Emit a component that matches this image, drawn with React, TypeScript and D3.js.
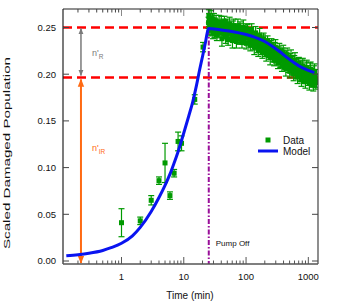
import React from "react";
import * as d3 from "d3";

// ---- Data ----
const earlyTimes = [1, 2, 3, 4, 5, 6, 7, 8.1, 9.2, 15, 20.4];
const earlyValues = [0.041, 0.043, 0.065, 0.086, 0.105, 0.07, 0.094, 0.128, 0.126, 0.173, 0.229];
const earlyErrors = [0.015, 0.004, 0.005, 0.004, 0.021, 0.004, 0.004, 0.01, 0.008, 0.005, 0.005];

const lateTimes = [
  25, 25.5, 26, 27, 28, 29, 30, 31, 32, 33, 35, 36, 38, 40, 42, 44, 46, 48, 50, 53, 56, 59, 62, 65, 68,
  72, 76, 80, 84, 88, 93, 98, 103, 108, 114, 120, 126, 132, 139, 146, 153, 161, 169, 178, 187, 196,
  206, 216, 227, 238, 250, 262, 275, 289, 303, 318, 334, 350, 368, 386, 405, 425, 446, 468, 491, 515,
  540, 567, 595, 625, 656, 688, 722, 758, 796, 835, 877, 920, 966, 1014, 1064, 1117, 1172, 1230, 1290, 1350,
];
const lateValues = [
  0.255, 0.258, 0.252, 0.256, 0.249, 0.259, 0.251, 0.246, 0.254, 0.257, 0.248, 0.252, 0.245, 0.255,
  0.249, 0.243, 0.251, 0.247, 0.253, 0.244, 0.249, 0.241, 0.25, 0.246, 0.239, 0.247, 0.243, 0.25,
  0.241, 0.246, 0.238, 0.244, 0.248, 0.24, 0.236, 0.244, 0.239, 0.233, 0.241, 0.236, 0.23, 0.238,
  0.234, 0.228, 0.236, 0.231, 0.226, 0.233, 0.229, 0.223, 0.23, 0.226, 0.22, 0.228, 0.223, 0.217,
  0.225, 0.22, 0.215, 0.222, 0.218, 0.212, 0.219, 0.214, 0.209, 0.217, 0.212, 0.207, 0.214, 0.209,
  0.204, 0.211, 0.206, 0.201, 0.208, 0.203, 0.199, 0.206, 0.201, 0.197, 0.204, 0.199, 0.195, 0.202,
  0.197, 0.193,
];
const lateErrors = [
  0.006, 0.007, 0.005, 0.006, 0.007, 0.006, 0.005, 0.007, 0.006, 0.006, 0.007, 0.005, 0.006, 0.007,
  0.006, 0.005, 0.007, 0.006, 0.006, 0.007, 0.005, 0.006, 0.007, 0.006, 0.005, 0.007, 0.006, 0.006,
  0.007, 0.005, 0.006, 0.007, 0.006, 0.005, 0.007, 0.006, 0.006, 0.007, 0.005, 0.006, 0.007, 0.006,
  0.005, 0.007, 0.006, 0.006, 0.007, 0.005, 0.006, 0.007, 0.006, 0.005, 0.007, 0.006, 0.006, 0.007,
  0.005, 0.006, 0.007, 0.006, 0.005, 0.007, 0.006, 0.006, 0.007, 0.005, 0.007, 0.008, 0.006, 0.007,
  0.008, 0.006, 0.007, 0.008, 0.007, 0.006, 0.008, 0.007, 0.008, 0.006, 0.008, 0.007, 0.008, 0.007,
  0.008, 0.007,
];

const lateTimes2 = [
  25.3, 26.5, 27.5, 28.5, 29.5, 30.5, 32.5, 34, 37, 39, 41, 43, 45, 47, 49, 51.5, 54.5, 57.5, 60.5, 63.5,
  66.5, 70, 74, 78, 82, 86, 90.5, 95.5, 100.5, 105.5, 111, 117, 123, 129, 135.5, 142.5, 149.5, 157, 165,
  173.5, 182.5, 191.5, 201, 211, 221.5, 232.5, 244, 256, 268.5, 282, 296, 310.5, 326, 342, 359, 377,
  395.5, 415, 435.5, 457, 479.5, 503, 527.5, 553.5, 581, 610, 640.5, 672, 705, 740, 777, 815.5, 856,
  898.5, 943, 990, 1039, 1090.5, 1144.5, 1201, 1260, 1320,
];
const lateValues2 = [
  0.262, 0.247, 0.26, 0.253, 0.244, 0.258, 0.25, 0.242, 0.256, 0.248, 0.238, 0.252, 0.256, 0.24,
  0.249, 0.237, 0.254, 0.245, 0.236, 0.252, 0.243, 0.235, 0.251, 0.238, 0.247, 0.234, 0.25, 0.24,
  0.233, 0.246, 0.242, 0.231, 0.247, 0.236, 0.229, 0.244, 0.233, 0.226, 0.241, 0.231, 0.224, 0.238,
  0.227, 0.221, 0.235, 0.225, 0.218, 0.232, 0.221, 0.215, 0.229, 0.219, 0.212, 0.226, 0.215, 0.209,
  0.224, 0.212, 0.206, 0.221, 0.208, 0.203, 0.218, 0.206, 0.2, 0.215, 0.203, 0.197, 0.212, 0.2,
  0.194, 0.209, 0.198, 0.192, 0.207, 0.196, 0.19, 0.205, 0.194, 0.189, 0.203, 0.192,
];
const lateErrors2 = [
  0.007, 0.006, 0.008, 0.007, 0.006, 0.007, 0.008, 0.006, 0.007, 0.006, 0.008, 0.007, 0.006, 0.007,
  0.008, 0.006, 0.007, 0.006, 0.008, 0.007, 0.006, 0.007, 0.008, 0.006, 0.007, 0.006, 0.008, 0.007,
  0.006, 0.007, 0.008, 0.006, 0.007, 0.006, 0.008, 0.007, 0.006, 0.007, 0.008, 0.006, 0.007, 0.006,
  0.008, 0.007, 0.006, 0.007, 0.008, 0.006, 0.007, 0.006, 0.008, 0.007, 0.006, 0.007, 0.008, 0.006,
  0.007, 0.006, 0.008, 0.007, 0.006, 0.007, 0.008, 0.006, 0.007, 0.008, 0.008, 0.007, 0.006, 0.008,
  0.007, 0.008, 0.008, 0.007, 0.008, 0.008, 0.007, 0.008, 0.008, 0.007, 0.008, 0.008,
];

const modelTimes = [
  0.13, 0.2, 0.3, 0.5, 0.7, 1, 1.5, 2, 3, 4, 5, 6, 7, 8, 10, 12, 14, 16, 18, 20, 22, 24.6, 25.2, 38,
  62, 100, 140, 200, 270, 350, 440, 600, 720, 1000, 1250,
];
const modelValues = [
  0.0057, 0.0068, 0.0083, 0.0113, 0.0145, 0.019, 0.027, 0.036, 0.053, 0.068, 0.081, 0.093, 0.105,
  0.116, 0.137, 0.155, 0.171, 0.188, 0.205, 0.219, 0.232, 0.248, 0.249, 0.2475, 0.2455, 0.2425,
  0.2395, 0.235, 0.2295, 0.224, 0.2185, 0.212, 0.2085, 0.204, 0.2016,
];

const yTicks = [0, 0.05, 0.1, 0.15, 0.2, 0.25];
const yTickLabels = ["0.00", "0.05", "0.10", "0.15", "0.20", "0.25"];
const xMajorTicks = [1, 10, 100, 1000];
const xTickLabels = ["1", "10", "100", "1000"];
const refLevels = [0.25, 0.1965];
const pumpOffTime = 25.2;
const arrowTime = 0.2;
const legendLabels = ["Data", "Model"];

export default function App() {
  const W = 341,
    H = 303;
  const L = 63,
    R = 318,
    T = 9,
    B = 264;
  const x = d3.scaleLog().domain([0.115, 1430]).range([L, R]);
  const y = d3.scaleLinear().domain([-0.00321, 0.2698]).range([B, T]);

  const minorTicks: number[] = [];
  for (let e = -1; e <= 3; e++) {
    for (let m = 1; m <= 9; m++) {
      const v = m * Math.pow(10, e);
      if (v >= 0.115 && v <= 1430) minorTicks.push(v);
    }
  }

  const line = d3
    .line<number>()
    .x((_, i) => x(modelTimes[i]))
    .y((d) => y(d))
    .curve(d3.curveMonotoneX);

  const font = "'Liberation Sans', Arial, sans-serif";
  const green = "#009a00";
  const orange = "#ff6a13";
  const gray = "#7a7a7a";

  const ax = x(arrowTime) + 3;

  const points = [
    ...earlyTimes.map((t, i) => ({ t, v: earlyValues[i], e: earlyErrors[i] })),
    ...lateTimes.map((t, i) => ({ t, v: lateValues[i], e: lateErrors[i] })),
    ...lateTimes2.map((t, i) => ({ t, v: lateValues2[i], e: lateErrors2[i] })),
  ];

  return (
    <svg width={W} height={H} style={{ position: "absolute", left: 0, top: 0, background: "#fff" }} fontFamily={font}>
      <defs>
        <marker id="ao" viewBox="0 0 10 10" refX="9" refY="5" markerWidth="4" markerHeight="4" orient="auto-start-reverse">
          <path d="M0,1 L10,5 L0,9 z" fill={orange} />
        </marker>
        <marker id="ag" viewBox="0 0 10 10" refX="9" refY="5" markerWidth="4" markerHeight="4" orient="auto-start-reverse">
          <path d="M0,1 L10,5 L0,9 z" fill={gray} />
        </marker>
        <clipPath id="plot">
          <rect x={L} y={T} width={R - L} height={B - T} />
        </clipPath>
      </defs>

      {/* reference dashed lines */}
      {refLevels.map((lv, i) => (
        <line key={i} x1={L} x2={R} y1={y(lv)} y2={y(lv)} stroke="#ff0000" strokeWidth={2.5} strokeDasharray="9,5" />
      ))}

      {/* pump off line */}
      <line x1={x(pumpOffTime)} x2={x(pumpOffTime)} y1={T} y2={B} stroke="#990f99" strokeWidth={2} strokeDasharray="5,2,1.5,2" />
      <text x={x(pumpOffTime) + 7} y={246} fontSize={8} fill="#111">Pump Off</text>

      {/* arrows */}
      <line x1={ax} x2={ax} y1={y(0.25) + 1} y2={y(0.1965) - 2} stroke={gray} strokeWidth={1.5} markerStart="url(#ag)" markerEnd="url(#ag)" />
      <line x1={ax} x2={ax} y1={y(0.1965) + 2} y2={B - 1} stroke={orange} strokeWidth={2} markerStart="url(#ao)" markerEnd="url(#ao)" />
      <text x={92} y={56} fontSize={9} fill={gray}>
        n'<tspan fontSize={6.5} dy={2.5}>R</tspan>
      </text>
      <text x={92} y={151} fontSize={9} fill={orange}>
        n'<tspan fontSize={6.5} dy={2.5}>IR</tspan>
      </text>

      {/* data */}
      <g clipPath="url(#plot)">
        {points.map((p, i) => {
          const cx = x(p.t);
          return (
            <g key={i}>
              <line x1={cx} x2={cx} y1={y(p.v - p.e)} y2={y(p.v + p.e)} stroke={green} strokeWidth={1.2} />
              <line x1={cx - 3} x2={cx + 3} y1={y(p.v - p.e)} y2={y(p.v - p.e)} stroke={green} strokeWidth={1.2} />
              <line x1={cx - 3} x2={cx + 3} y1={y(p.v + p.e)} y2={y(p.v + p.e)} stroke={green} strokeWidth={1.2} />
              <rect x={cx - 2.5} y={y(p.v) - 2.5} width={5} height={5} fill={green} />
            </g>
          );
        })}
        <path d={line(modelValues) || ""} fill="none" stroke="#0a14f0" strokeWidth={3} />
      </g>

      {/* axes frame */}
      <line x1={L} x2={L} y1={T} y2={B} stroke="#222" strokeWidth={1.2} />
      <line x1={R} x2={R} y1={T} y2={B} stroke="#444" strokeWidth={1.2} />
      <line x1={L} x2={R} y1={T} y2={T} stroke="#222" strokeWidth={1.2} />
      <line x1={L} x2={R} y1={B} y2={B} stroke="#555" strokeWidth={1.5} />

      {/* x ticks */}
      {minorTicks.map((v, i) => {
        const major = xMajorTicks.includes(v);
        const len = major ? 7 : 3.5;
        return (
          <g key={i}>
            <line x1={x(v)} x2={x(v)} y1={B} y2={B - len} stroke="#555" strokeWidth={1} />
            <line x1={x(v)} x2={x(v)} y1={T} y2={T + len} stroke={major ? "#888" : "#444"} strokeWidth={1} />
          </g>
        );
      })}
      {xMajorTicks.map((v, i) => (
        <text key={i} x={x(v)} y={280} fontSize={9.5} textAnchor="middle" fill="#111">
          {xTickLabels[i]}
        </text>
      ))}

      {/* y ticks */}
      {yTicks.map((v, i) => (
        <g key={i}>
          <line x1={L} x2={L + 6} y1={y(v)} y2={y(v)} stroke="#444" strokeWidth={1} />
          <line x1={R} x2={R - 6} y1={y(v)} y2={y(v)} stroke="#444" strokeWidth={1} />
          <text x={56} y={y(v) + 3.4} fontSize={9.5} textAnchor="end" fill="#111">
            {yTickLabels[i]}
          </text>
        </g>
      ))}

      {/* axis titles */}
      <text x={190} y={299} fontSize={10} textAnchor="middle" fill="#111">Time (min)</text>
      <text
        transform="translate(10,153) rotate(-90)"
        fontSize={9.5}
        textAnchor="middle"
        textLength={192}
        lengthAdjust="spacingAndGlyphs"
        fill="#111"
      >
        Scaled Damaged Population
      </text>

      {/* legend */}
      <rect x={265.5} y={137.5} width={5} height={5} fill={green} />
      <text x={283} y={143.5} fontSize={10} fill="#111">{legendLabels[0]}</text>
      <line x1={258} x2={278} y1={151} y2={151} stroke="#0a14f0" strokeWidth={3} />
      <text x={283} y={154.5} fontSize={10} fill="#111">{legendLabels[1]}</text>
    </svg>
  );
}
